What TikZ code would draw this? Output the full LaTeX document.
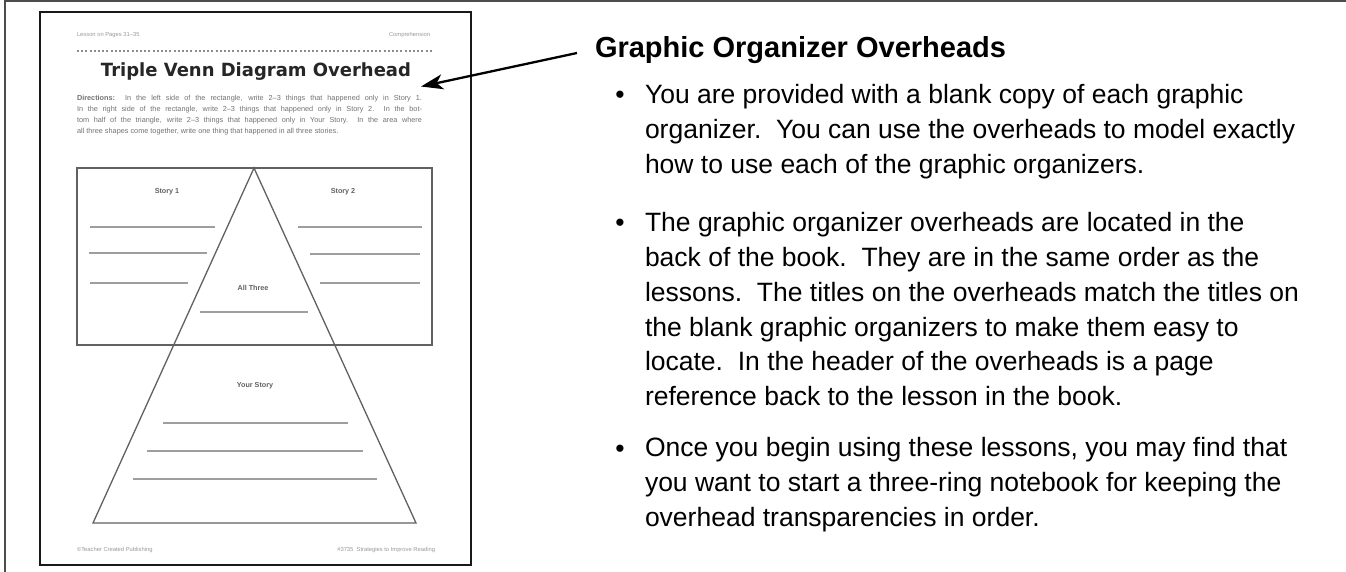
\documentclass[tikz,border=0pt]{standalone}
\usepackage{fontspec}
\setmainfont{Liberation Sans}
\newfontfamily\dejavu{DejaVu Sans}
\usetikzlibrary{arrows.meta}
\begin{document}
\begin{tikzpicture}[x=1pt,y=-1pt,
  every node/.style={inner sep=0pt, outer sep=0pt},
  outerframe/.style={draw=black!70, line width=2pt},
  pageframe/.style={draw=black!90, line width=1.5pt},
  shapeline/.style={draw=black!62, line width=1.3pt},
  writeline/.style={draw=black!38, line width=1.1pt},
  tinytext/.style={font=\fontsize{5.8}{7}\selectfont, text=black!40},
  dirtext/.style={font=\fontsize{7.3}{11}\selectfont, text=black!55, align=left, anchor=north west},
  lab/.style={font=\bfseries\fontsize{7.2}{8}\selectfont, text=black!62},
  body/.style={font=\fontsize{26.5}{34.7}\selectfont, align=left, anchor=north west},
  bul/.style={font=\fontsize{26.5}{34.7}\selectfont, anchor=base},
  pointer/.style={draw=black, line width=2.3pt, -{Stealth[length=22pt,width=15pt,inset=6pt]}}
]
\useasboundingbox (0,0) rectangle (1346,572);
\fill[white] (0,0) rectangle (1346,572);

% outer frame (top and left)
\draw[outerframe] (1346,1) -- (5,1) -- (5,572);

% page thumbnail
\draw[pageframe] (40,12) rectangle (471,565);
\node[tinytext, anchor=base west] (hdl) at (77,37) {Lesson on Pages 31--35};
\node[tinytext, anchor=base east] (hdr) at (430,37) {Comprehension};
\draw[black!45, line width=1.3pt, dash pattern=on 2pt off 2.2pt] (77,51) -- (432,51);
\node[anchor=base, text=black!85] (title) at (256,77)
  {\resizebox{310pt}{13.8pt}{\dejavu\bfseries Triple Venn Diagram Overhead}};
\node[dirtext] (dir) at (77,95.5) {%
  \makebox[345pt][s]{\textbf{Directions:}\ \ In the left side of the rectangle, write 2--3 things that happened only in Story 1.}\\
  \makebox[345pt][s]{In the right side of the rectangle, write 2--3 things that happened only in Story 2.\ \ In the bot-}\\
  \makebox[345pt][s]{tom half of the triangle, write 2--3 things that happened only in Your Story.\ \ In the area where}\\
  all three shapes come together, write one thing that happened in all three stories.};

% rectangle and triangle
\draw[shapeline] (77,168) rectangle (432,345);
\draw[shapeline] (254,168) -- (416,523) -- (93,523) -- cycle;
\node[lab] (s1) at (167,192) {Story 1};
\node[lab] (s2) at (343,192) {Story 2};
\node[lab] (all) at (253,288) {All Three};
\node[lab] (your) at (255,386) {Your Story};
\draw[writeline] (90,227) -- (215,227);
\draw[writeline] (89,253) -- (207,253);
\draw[writeline] (90,283) -- (188,283);
\draw[writeline] (298,227) -- (422,227);
\draw[writeline] (310,254) -- (420,254);
\draw[writeline] (320,283) -- (420,283);
\draw[writeline] (200,312) -- (308,312);
\draw[writeline] (163,423) -- (348,423);
\draw[writeline] (147,451) -- (363,451);
\draw[writeline] (133,479) -- (377,479);
\node[tinytext, anchor=base west] (ftl) at (77,551) {\textcopyright Teacher Created Publishing};
\node[tinytext, anchor=base east] (ftr) at (435,551) {\#3735 \ Strategies to Improve Reading};

% heading and arrow
\node[anchor=base west, font=\bfseries\fontsize{29}{34}\selectfont] (head) at (595,58) {Graphic Organizer Overheads};
\coordinate (arrstart) at (577,53);
\coordinate (arrtip) at (421,86.5);
\draw[pointer] (arrstart) -- (arrtip);

% bullets
\node[bul] (d1) at (620,104) {\textbullet};
\node[body] (b1) at (645,84.7) {You are provided with a blank copy of each graphic\\
organizer.\ \ You can use the overheads to model exactly\\
how to use each of the graphic organizers.};
\node[bul] (d2) at (620,232) {\textbullet};
\node[body] (b2) at (645,212.7) {The graphic organizer overheads are located in the\\
back of the book.\ \ They are in the same order as the\\
lessons.\ \ The titles on the overheads match the titles on\\
the blank graphic organizers to make them easy to\\
locate.\ \ In the header of the overheads is a page\\
reference back to the lesson in the book.};
\node[bul] (d3) at (620,457) {\textbullet};
\node[body] (b3) at (645,437.7) {Once you begin using these lessons, you may find that\\
you want to start a three-ring notebook for keeping the\\
overhead transparencies in order.};
\end{tikzpicture}
\end{document}
